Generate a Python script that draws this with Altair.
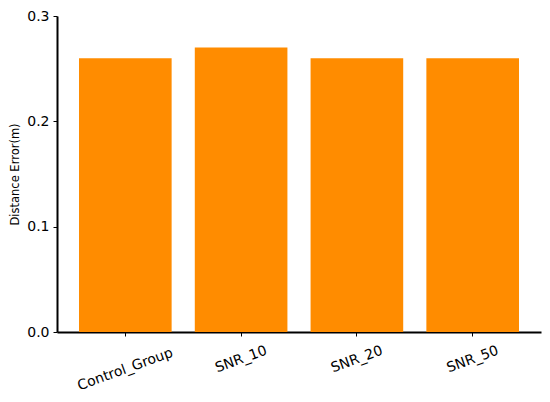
import altair as alt
import pandas as pd

groups = ["Control_Group", "SNR_10", "SNR_20", "SNR_50"]
errors = [0.26, 0.27, 0.26, 0.26]

df = pd.DataFrame({"group": groups, "error": errors})

chart = alt.Chart(df).mark_bar(color="#FF8C00").encode(
    x=alt.X("group:N", sort=groups, title=None,
            scale=alt.Scale(paddingInner=0.2, paddingOuter=0.19),
            axis=alt.Axis(labelAngle=-20, labelAlign="center", labelBaseline="middle",
                          labelFontSize=14, labelColor="black",
                          labelFont="DejaVu Sans",
                          labelPadding={"condition": {"test": "datum.value == 'Control_Group'", "value": 33},
                                        "value": 23},
                          domainColor="black", domainWidth=2,
                          tickColor="black", tickSize=4, tickWidth=1)),
    y=alt.Y("error:Q", title="Distance Error(m)",
            scale=alt.Scale(domain=[0, 0.3], nice=False),
            axis=alt.Axis(values=[0, 0.1, 0.2, 0.3], format=".1f", grid=False,
                          labelFontSize=14, labelColor="black", labelFont="DejaVu Sans",
                          labelPadding=4, titleFont="DejaVu Sans", titleFontSize=11.5,
                          titleFontWeight="normal", titleColor="black", titlePadding=6,
                          domainColor="black", domainWidth=2,
                          tickColor="black", tickSize=4, tickWidth=1)),
).properties(
    width=484, height=316,
    autosize=alt.AutoSizeParams(type="none"),
    padding={"left": 49, "top": 8, "right": 1, "bottom": 62},
).configure_view(stroke=None)

chart.save("out.html", embed_options={"renderer": "svg", "actions": False})
